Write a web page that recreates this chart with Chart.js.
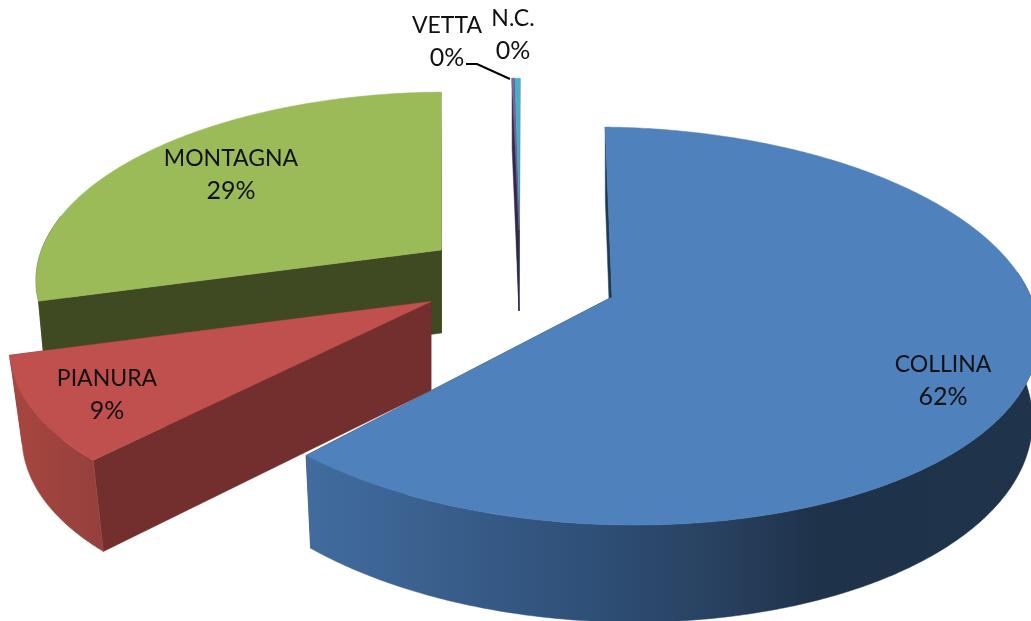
<!DOCTYPE html>
<html><head><meta charset="utf-8">
<style>html,body{margin:0;padding:0;background:#fff}canvas{display:block}</style>
<script src="https://cdn.jsdelivr.net/npm/chart.js@4/dist/chart.umd.min.js"></script>
</head><body><canvas id="c" width="1031" height="621"></canvas>
<script>
const categories = ['COLLINA','PIANURA','MONTAGNA','VETTA','N.C.'];
const shares = [61.6, 9.0, 29.05, 0.08, 0.27];
const topColors = ['#4f81bd','#c0504d','#9bbb59','#8064a2','#4bacc6'];
const cutColors = ['#1f3a56','#722f2d','#3f4a22','#33284a','#2a6070'];
const wallStops = [
  [[0,'#426c9f'],[0.38,'#2f5078'],[0.57,'#28405f'],[0.70,'#1e3249'],[1,'#1f334a']],
  [[0,'#a8463f'],[1,'#94403d']],
  [[0,'#3f4a22'],[1,'#3f4a22']],
  [[0,'#33284a'],[1,'#33284a']],
  [[0,'#2a6070'],[1,'#2a6070']]
];
// projection of each exploded slice: apex, plan radii, perspective, shear, thickness, turn, taper, depth perspective
const views = [
  {x:612,y:297,a:194.8,b:419,k:0.1457,s:0.1,d:83,rot:2.6,t:0.015,p:1},
  {x:431,y:301.5,a:190,b:410,k:0.1457,s:-0.195,d:89,rot:1.08,t:0.03,p:0.2},
  {x:441.5,y:250,a:181,b:400,k:0.1457,s:-0.042,d:83,rot:1.08,t:0.02,p:1},
  {x:519,y:230,a:174,b:414,k:0.1457,s:0,d:81,rot:1.15,t:0.02,p:1},
  {x:519,y:230,a:174,b:414,k:0.1457,s:0,d:81,rot:1.15,t:0.02,p:1}
];
const labelPos = [[943,365],[107,379],[231,159],[447,26],[513,19]];

function project(v,theta,r,z){
  const th=theta+v.rot*Math.PI/180;
  const X=Math.sin(th)*r, Y=Math.cos(th)*r, den=1+v.k*Y;
  let dx=v.b*X/den, dy=-v.a*Y/den;
  dx+=v.s*dy;
  return [v.x+dx*(1-v.t*z), v.y+dy+z*v.d*(1+(1/den-1)*v.p)];
}
class Arc3D extends Chart.ArcElement {
  static id='arc3d';
  draw(ctx){
    const i=this.$context.index, v=views[i];
    const t0=this.startAngle+Math.PI/2, t1=this.endAngle+Math.PI/2;
    const arcPts=(a,b,z)=>{const n=Math.max(2,Math.ceil(Math.abs(b-a)/0.01)),p=[];
      for(let j=0;j<=n;j++)p.push(project(v,a+(b-a)*j/n,1,z));return p;};
    const fill=(pts,style)=>{ctx.beginPath();pts.forEach((p,j)=>j?ctx.lineTo(p[0],p[1]):ctx.moveTo(p[0],p[1]));ctx.closePath();ctx.fillStyle=style;ctx.strokeStyle=style;ctx.lineWidth=0.5;ctx.fill();ctx.stroke();};
    const cut=t=>[project(v,t,0,0),project(v,t,1,0),project(v,t,1,1),project(v,t,0,1)];
    fill(cut(t1),cutColors[i]);
    fill(cut(t0),cutColors[i]);
    const lo=Math.max(t0,80*Math.PI/180), hi=Math.min(t1,280*Math.PI/180);
    if(hi>lo){
      const top=arcPts(lo,hi,0), bot=arcPts(hi,lo,1), all=top.concat(bot);
      const xs=all.map(p=>p[0]);
      const g=ctx.createLinearGradient(Math.min(...xs),0,Math.max(...xs),0);
      wallStops[i].forEach(s=>g.addColorStop(s[0],s[1]));
      fill(all,g);
    }
    fill([project(v,t0,0,0)].concat(arcPts(t0,t1,0)),this.options.backgroundColor);
  }
}
class Pie3D extends Chart.PieController {
  static id='pie3d';
  static defaults={dataElementType:'arc3d'};
  static overrides=Chart.PieController.overrides;
  draw(){
    const ctx=this.chart.ctx, els=this.getMeta().data;
    for(let i=els.length-1;i>=0;i--)els[i].draw(ctx);
  }
}
Chart.register(Arc3D,Pie3D);
const labelsPlugin={id:'labels3d',afterDatasetsDraw(chart){
  const ctx=chart.ctx, total=shares.reduce((a,b)=>a+b,0);
  ctx.save();
  ctx.strokeStyle='#000';ctx.lineWidth=2;ctx.beginPath();
  ctx.moveTo(466,64);ctx.lineTo(477,64);ctx.lineTo(510,79);ctx.stroke();
  ctx.fillStyle='#111';ctx.textAlign='center';ctx.textBaseline='middle';
  categories.forEach((c,i)=>{
    const [x,y]=labelPos[i];
    ctx.font='23px Lato';
    ctx.fillText(c,x,y);
    ctx.font='25px Lato';
    ctx.fillText(Math.round(shares[i]/total*100)+'%',x,y+32);
  });
  ctx.restore();
}};
new Chart(document.getElementById('c'),{
  type:'pie3d',
  data:{labels:categories,datasets:[{data:shares,backgroundColor:topColors,borderWidth:0}]},
  options:{responsive:false,animation:false,events:[],rotation:-1,
    plugins:{legend:{display:false},tooltip:{enabled:false}}},
  plugins:[labelsPlugin]
});
</script></body></html>
